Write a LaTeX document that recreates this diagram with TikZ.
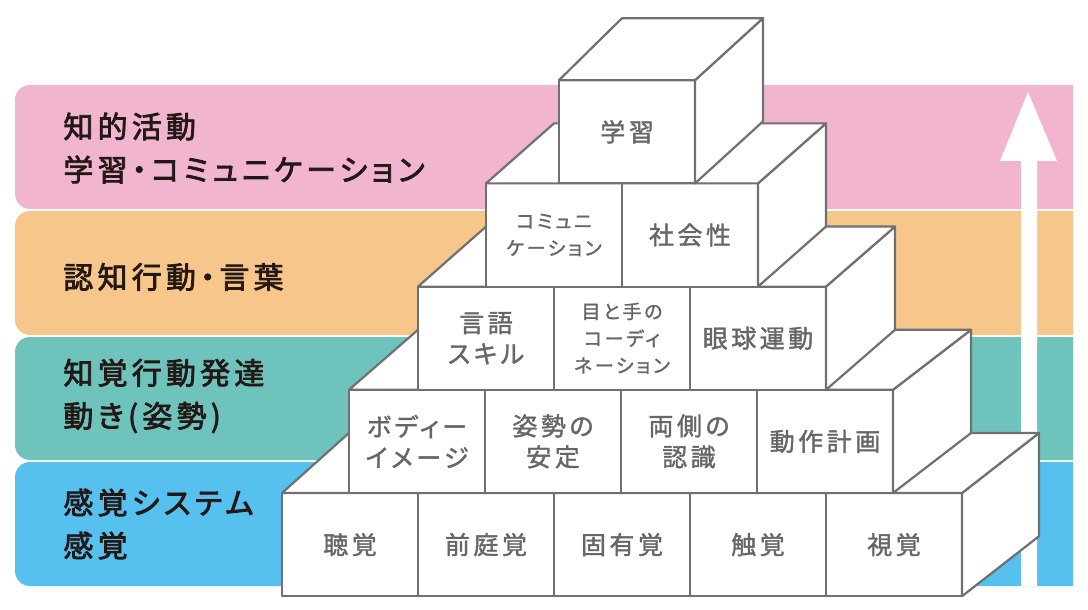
\documentclass[tikz,border=0pt]{standalone}
\usepackage{fontspec}
\setmainfont{Noto Sans CJK JP}[RawFeature=+palt,LetterSpace=14]
\newfontfamily\boxfont{Noto Sans CJK JP}[RawFeature=+palt,LetterSpace=14,FakeBold=1.5]
\newfontfamily\bandfont{Noto Sans CJK JP}[RawFeature=+palt,LetterSpace=14,FakeBold=2.5]
\definecolor{bandpink}{HTML}{F1B5D0}
\definecolor{bandorange}{HTML}{F6C68A}
\definecolor{bandteal}{HTML}{6EC4BC}
\definecolor{bandblue}{HTML}{56C0EF}
\definecolor{blockline}{HTML}{707070}
\definecolor{blocktext}{HTML}{666666}
\definecolor{bandtext}{HTML}{231815}
\tikzset{
  face/.style={fill=white,draw=blockline,line width=1.1pt,line join=round},
  box/.style={face,minimum width=68pt,minimum height=51.6pt,inner sep=0pt,outer sep=0pt,
    text=blocktext,align=center,font=\boxfont\fontsize{12.5pt}{15.5pt}\selectfont},
  smallbox/.style={box,font=\boxfont\fontsize{9.5pt}{13.5pt}\selectfont},
  bandlabel/.style={text=bandtext,align=left,anchor=west,inner sep=0pt,
    font=\bandfont\fontsize{15pt}{21.5pt}\selectfont}
}
\begin{document}
\begin{tikzpicture}[x=0.5pt,y=-0.5pt]
\useasboundingbox (0,0) rectangle (1088,610);

% bands
\fill[bandpink] (1073,85) [rounded corners=7.5pt] -- (15,85) -- (15,209) [sharp corners] -- (1073,209) -- cycle;
\fill[bandorange] (1073,211) [rounded corners=7.5pt] -- (15,211) -- (15,335) [sharp corners] -- (1073,335) -- cycle;
\fill[bandteal] (1073,337) [rounded corners=7.5pt] -- (15,337) -- (15,460) [sharp corners] -- (1073,460) -- cycle;
\fill[bandblue] (1073,462) [rounded corners=7.5pt] -- (15,462) -- (15,586) [sharp corners] -- (1073,586) -- cycle;

\node[bandlabel] (intel) at (63,148) {知的活動\\学習・コミュニケーション};
\node[bandlabel] (cogn) at (63,277) {認知行動・言葉};
\node[bandlabel] (perc) at (63,396) {知覚行動発達\\動き(姿勢)};
\node[bandlabel] (sens) at (63,524) {感覚システム\\感覚};

\fill[white] (1021,586) -- (1021,161) -- (1000,161) -- (1028,92) -- (1057,161) -- (1037,161) -- (1037,586) -- cycle;

% bottom row
\node[box] (hear) at (350,544.6) {聴覚};
\node[box] (vest) at (486,544.6) {前庭覚};
\node[box] (prop) at (622,544.6) {固有覚};
\node[box] (touch) at (758,544.6) {触覚};
\node[box] (sight) at (894,544.6) {視覚};
\filldraw[face] (962,493) -- (1039,433) -- (1039,536.2) -- (962,596.2) -- cycle;
\filldraw[face] (282,493) -- (962,493) -- (1039,433) -- (349,433) -- cycle;

% second row
\node[box] (body) at (417,441.4) {ボディー\\イメージ};
\node[box] (post) at (553,441.4) {姿勢の\\安定};
\node[box] (both) at (689,441.4) {両側の\\認識};
\node[box] (plan) at (825,441.4) {動作計画};
\filldraw[face] (893,389.8) -- (971,329.8) -- (971,433) -- (893,493) -- cycle;
\filldraw[face] (349,389.8) -- (893,389.8) -- (971,329.8) -- (418,329.8) -- cycle;

% third row
\node[box] (lang) at (486,338.2) {言語\\スキル};
\node[smallbox] (eyehand) at (622,338.2) {目と手の\\コーディ\\ネーション};
\node[box] (eye) at (758,338.2) {眼球運動};
\filldraw[face] (826,286.6) -- (895,226.6) -- (895,329.8) -- (826,389.8) -- cycle;
\filldraw[face] (418,286.6) -- (826,286.6) -- (895,226.6) -- (486,226.6) -- cycle;

% fourth row
\node[smallbox] (comm) at (554,235) {コミュニ\\ケーション};
\node[box] (social) at (690,235) {社会性};
\filldraw[face] (758,183.4) -- (826,123.4) -- (826,226.6) -- (758,286.6) -- cycle;
\filldraw[face] (486,183.4) -- (758,183.4) -- (826,123.4) -- (554,123.4) -- cycle;

% top
\node[box] (learn) at (627,131.8) {学習};
\filldraw[face] (695,80.2) -- (763,18.2) -- (763,121.4) -- (695,183.4) -- cycle;
\filldraw[face] (559,80.2) -- (695,80.2) -- (763,18.2) -- (622,18.2) -- cycle;
\end{tikzpicture}
\end{document}
